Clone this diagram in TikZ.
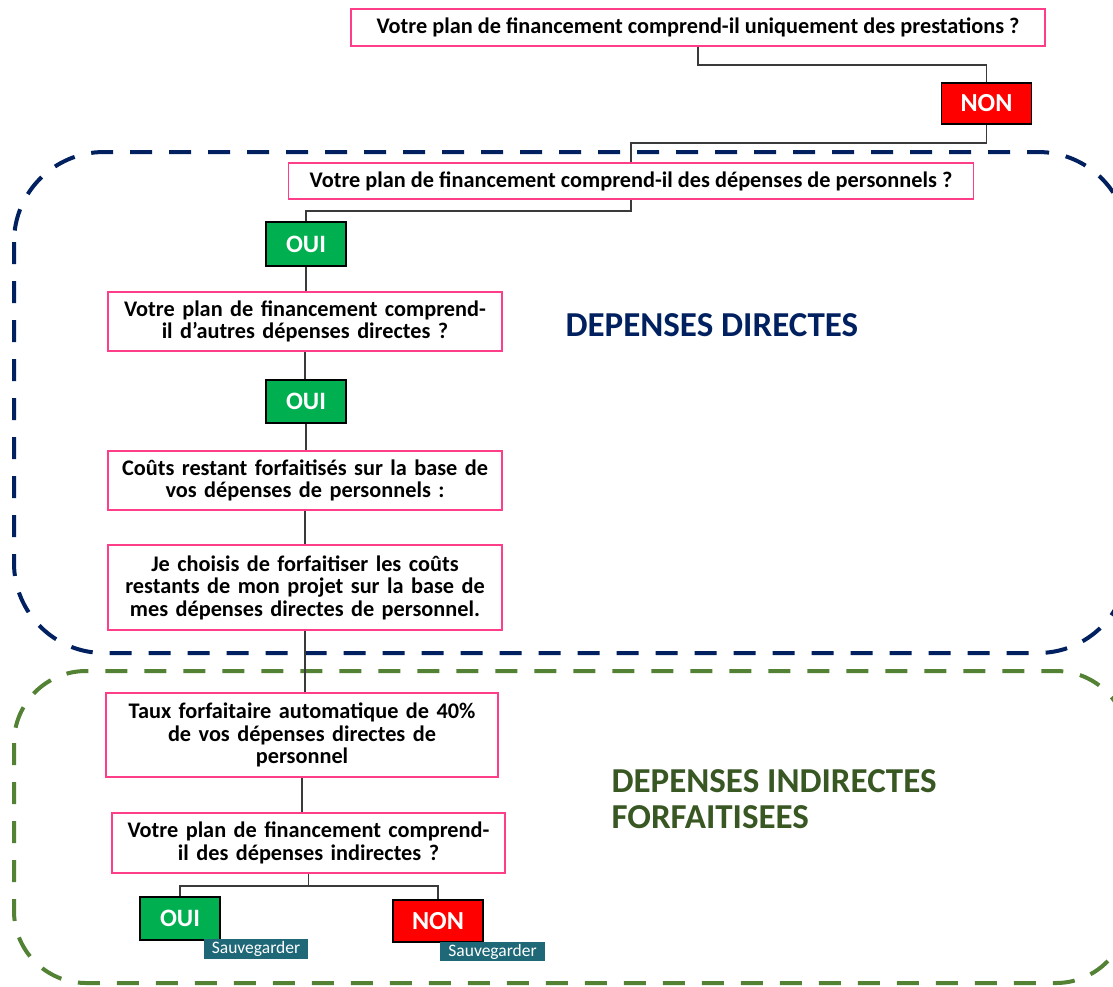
\documentclass[tikz,border=0pt]{standalone}
\usepackage{fontspec}
\setmainfont{Carlito}
\definecolor{pinkb}{HTML}{FF3E8A}
\definecolor{navy}{HTML}{002060}
\definecolor{grn}{HTML}{548235}
\definecolor{dgrn}{HTML}{385723}
\definecolor{ouig}{HTML}{00B050}
\definecolor{teal}{HTML}{1E6878}
\definecolor{conn}{HTML}{3A3A3A}
\begin{document}
\begin{tikzpicture}[x=1pt,y=-1pt,
  qbox/.style={draw=pinkb,line width=1.6pt,fill=white,inner sep=0pt,align=center,font=\fontsize{22.3}{22.5}\selectfont\bfseries},
  oui/.style={draw=black,line width=1.8pt,fill=ouig,text=white,inner sep=0pt,minimum width=80pt,minimum height=43pt,font=\fontsize{25}{28}\selectfont\bfseries},
  non/.style={draw=black,line width=1.8pt,fill=red,text=white,inner sep=0pt,minimum width=90pt,minimum height=41pt,font=\fontsize{26}{28}\selectfont\bfseries},
  badge/.style={fill=teal,text=white,inner sep=0pt,minimum width=104pt,minimum height=20pt,font=\fontsize{17.5}{19}\selectfont},
  link/.style={draw=conn,line width=1.7pt},
  zone/.style={line width=4pt,dash pattern=on 22pt off 17pt}]
\useasboundingbox (0,0) rectangle (1113,986);
\clip (0,0) rectangle (1113,986);
% zones
\draw[zone,navy,rounded corners=90pt] (14,152) rectangle (1128,653);
\draw[zone,grn,rounded corners=72pt] (14,671) rectangle (1128,983);
\node[anchor=west,text=navy,font=\fontsize{35}{36}\selectfont\bfseries] (t1) at (562,325) {DEPENSES DIRECTES};
\node[anchor=west,text=dgrn,align=left,font=\fontsize{35}{36}\selectfont\bfseries] (t2) at (608,799) {DEPENSES INDIRECTES\\FORFAITISEES};
% nodes
\node[qbox,minimum width=694pt,minimum height=37pt] (q1) at (698,27.5) {Votre plan de financement comprend-il uniquement des prestations ?};
\node[non] (n1) at (986.5,103.5) {NON};
\node[qbox,minimum width=685pt,minimum height=36pt] (q2) at (631,181) {Votre plan de financement comprend-il des dépenses de personnels ?};
\node[oui,minimum height=44pt] (o1) at (306,244) {OUI};
\node[qbox,text width=394pt,minimum height=59pt] (q3) at (305,321.5) {Votre plan de financement comprend-\\il d’autres dépenses directes ?};
\node[oui] (o2) at (306,401.5) {OUI};
\node[qbox,text width=394pt,minimum height=59pt] (q4) at (305,480.5) {Coûts restant forfaitisés sur la base de\\vos dépenses de personnels :};
\node[qbox,text width=394pt,minimum height=85pt] (q5) at (305,587.5) {Je choisis de forfaitiser les coûts\\restants de mon projet sur la base de\\mes dépenses directes de personnel.};
\node[qbox,text width=392pt,minimum height=84pt] (q6) at (302,735) {Taux forfaitaire automatique de 40\%\\de vos dépenses directes de\\personnel};
\node[qbox,text width=393pt,minimum height=60pt] (q7) at (308.5,843) {Votre plan de financement comprend-\\il des dépenses indirectes ?};
\node[oui] (o3) at (180,918.5) {OUI};
\node[non,minimum height=42pt] (n3) at (438,921) {NON};
\node[badge] (b1) at (256,949) {Sauvegarder};
\node[badge,minimum width=105pt,minimum height=19pt] (b2) at (492.5,951.5) {Sauvegarder};
% links
\draw[link] (q1.south) -- ++(0,18) -| (n1.north);
\draw[link] (n1.south) -- ++(0,18) -| (q2.north);
\draw[link] (q2.south) -- ++(0,11) -| (o1.north);
\draw[link] (o1.south) -- (o1.south |- q3.north);
\draw[link] (q3.south) -- (q3.south |- o2.north);
\draw[link] (o2.south) -- (o2.south |- q4.north);
\draw[link] (q4.south) -- (q4.south |- q5.north);
\draw[link] (q5.south) -- (q5.south |- q6.north);
\draw[link] (q6.south) -- (q6.south |- q7.north);
\draw[link] (q7.south) -- ++(0,12) -| (o3.north);
\draw[link] (q7.south) -- ++(0,12) -| (n3.north);
\end{tikzpicture}
\end{document}
